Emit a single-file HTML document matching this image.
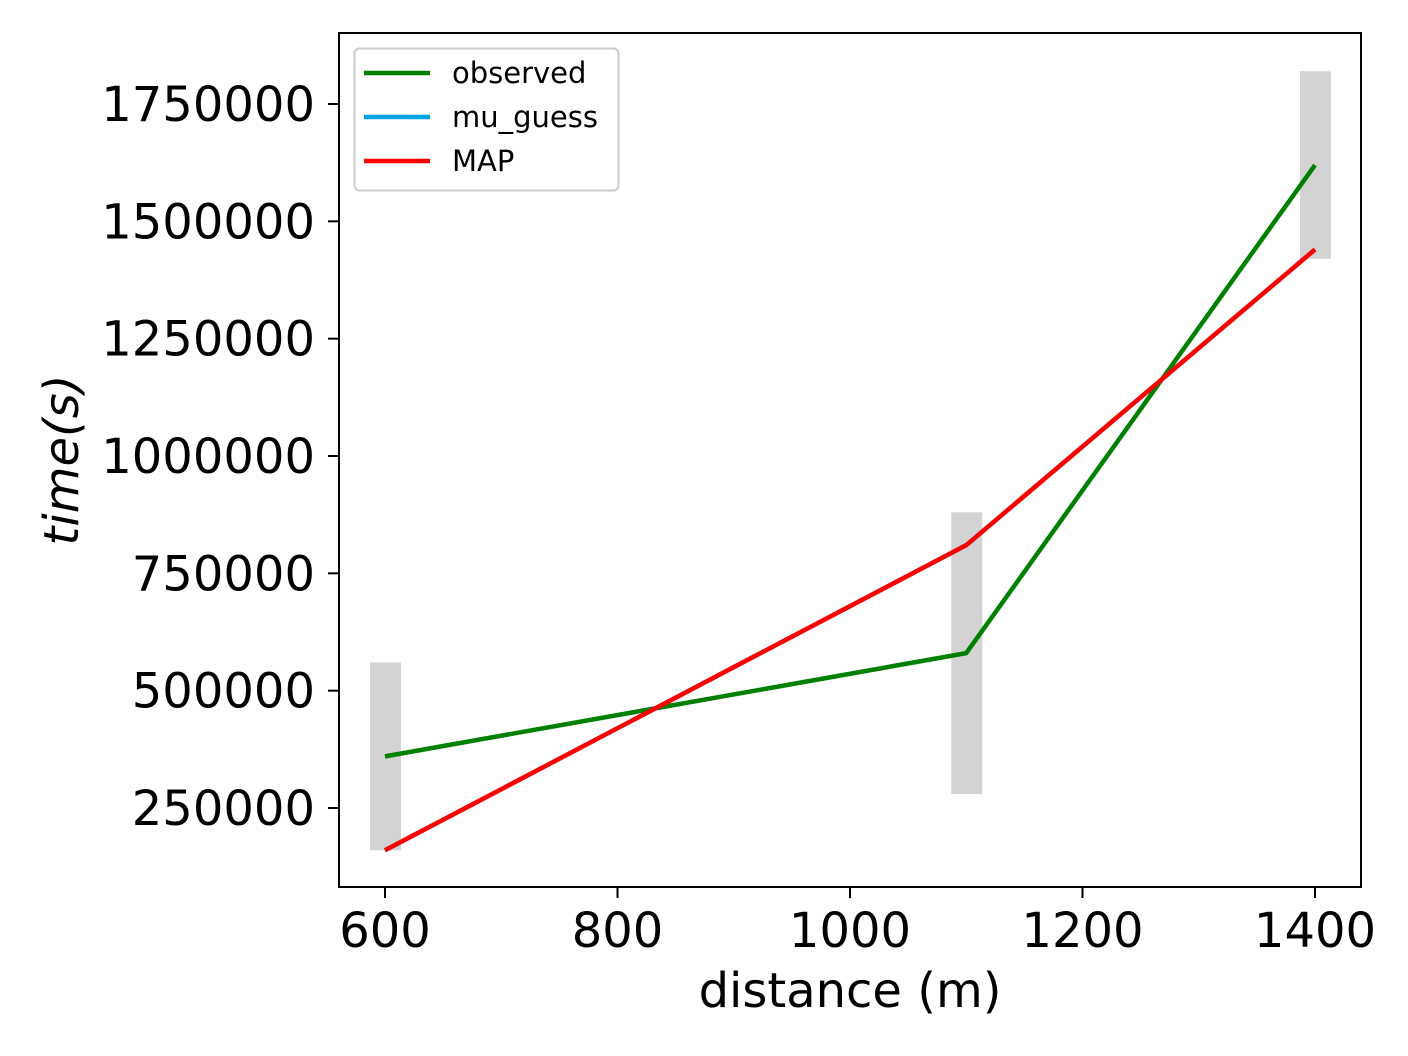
<!DOCTYPE html>
<html><head><meta charset="utf-8"><style>
html,body{margin:0;padding:0;background:#fff;}
svg{display:block;font-family:"DejaVu Sans","Liberation Sans",sans-serif;}
</style></head><body>
<svg id="chart" width="1408" height="1056" viewBox="0 0 1408 1056" xmlns="http://www.w3.org/2000/svg">
<rect width="1408" height="1056" fill="#fff"/>
<g id="bars"></g>
<g id="lines"></g>
<g id="axes"></g>
<g id="legend">
<rect x="354.5" y="48.5" width="264" height="142" rx="5" fill="#fff" fill-opacity="0.8" stroke="#ccc" stroke-width="2"/>
<line x1="364" y1="73" x2="430" y2="73" stroke="#008000" stroke-width="4.5"/>
<text x="452" y="83" font-size="29">observed</text>
<line x1="364" y1="117" x2="430" y2="117" stroke="#00a2e8" stroke-width="4.5"/>
<text x="452" y="127" font-size="29">mu_guess</text>
<line x1="364" y1="161" x2="430" y2="161" stroke="#ff0000" stroke-width="4.5"/>
<text x="452" y="171" font-size="29">MAP</text>
</g>
</svg>
<script>
const distances = [600, 1100, 1400];
const observed = [360000, 580000, 1620000];
const muGuess = [160000, 810000, 1440000];
const mapEst = [160000, 810000, 1440000];
const errHalf = [200000, 300000, 200000];
const xTicks = [600, 800, 1000, 1200, 1400];
const yTicks = [250000, 500000, 750000, 1000000, 1250000, 1500000, 1750000];

const NS = "http://www.w3.org/2000/svg";
const L = 339, R = 1361, T = 33, B = 887;
function xs(v){ return 385 + (v - 600) * (1315 - 385) / 800; }
function ys(v){ return 808 - (v - 250000) * (808 - 104) / 1500000; }
function mk(tag, attrs, parent){ const e = document.createElementNS(NS, tag); for (const k in attrs) e.setAttribute(k, attrs[k]); parent.appendChild(e); return e; }

const bars = document.getElementById('bars');
distances.forEach((d, i) => {
  const y1 = ys(observed[i] + errHalf[i]), y2 = ys(observed[i] - errHalf[i]);
  const r = mk('rect', {x: xs(d) - 15, y: y1, width: 31, height: y2 - y1, fill: '#d3d3d3'}, bars);
  
  
});

const lines = document.getElementById('lines');
function poly(vals, color, name){
  const p = mk('polyline', {points: distances.map((d, i) => xs(d) + ',' + ys(vals[i])).join(' '), fill: 'none', stroke: color, 'stroke-width': 4.5, 'stroke-linejoin': 'round'}, lines);
  
  
}
poly(observed, '#008000', 'line-observed');
poly(muGuess, '#00a2e8', 'line-mu-guess');
poly(mapEst, '#ff0000', 'line-map');

const axes = document.getElementById('axes');
const frame = mk('rect', {x: L, y: T, width: R - L, height: B - T, fill: 'none', stroke: '#000', 'stroke-width': 2}, axes);


xTicks.forEach(v => {
  const x = xs(v);
  const t = mk('line', {x1: x, y1: B, x2: x, y2: B + 11, stroke: '#000', 'stroke-width': 2}, axes);
  
  
  const tx = mk('text', {x: x, y: 947, 'font-size': 48, 'text-anchor': 'middle'}, axes);
  tx.textContent = v;
  
  
});
yTicks.forEach(v => {
  const y = ys(v);
  const t = mk('line', {x1: L - 11, y1: y, x2: L, y2: y, stroke: '#000', 'stroke-width': 2}, axes);
  
  
  const tx = mk('text', {x: 315, y: y + 17, 'font-size': 48, 'text-anchor': 'end'}, axes);
  tx.textContent = v;
  
  
});
const xl = mk('text', {x: 850, y: 1007, 'font-size': 48, 'text-anchor': 'middle'}, axes);
xl.textContent = 'distance (m)';


const yl = mk('text', {x: 0, y: 0, 'font-size': 48, 'text-anchor': 'middle', 'font-style': 'italic', transform: 'translate(78,460) rotate(-90)'}, axes);
yl.textContent = 'time(s)';


</script>
</body></html>
